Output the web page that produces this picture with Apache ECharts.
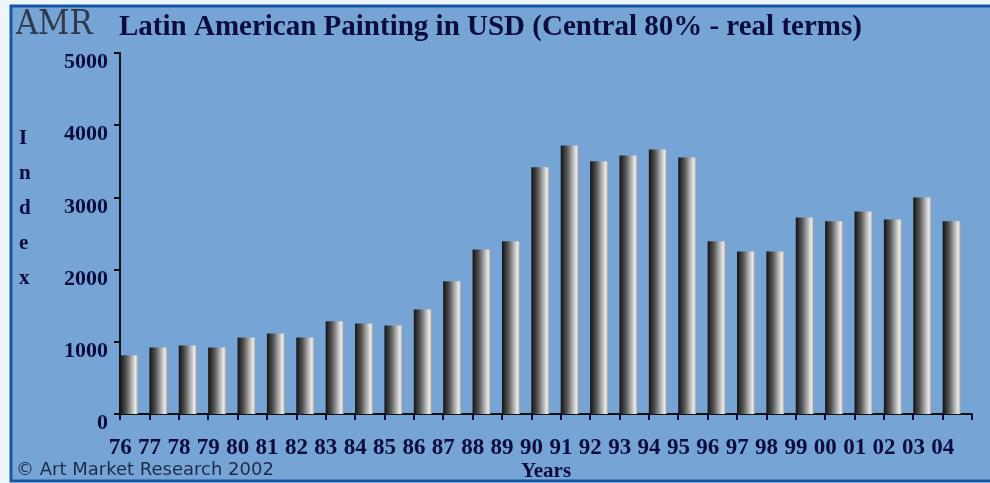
<!DOCTYPE html>
<html>
<head>
<meta charset="utf-8">
<script src="https://cdn.jsdelivr.net/npm/echarts@6/dist/echarts.min.js"></script>
<style>
  html, body { margin: 0; padding: 0; background: #eef6fd; }
  #chart { width: 990px; height: 483px; }
</style>
</head>
<body>
<div id="chart"></div>
<script>
// years along the bottom
const years = ['76','77','78','79','80','81','82','83','84','85','86','87','88','89',
  '90','91','92','93','94','95','96','97','98','99','00','01','02','03','04']
// index values
const indexValues = [812, 922, 950, 922, 1061, 1116, 1061, 1283, 1255, 1227, 1449, 1837, 2280, 2391,
  3416, 3720, 3499, 3582, 3665, 3554, 2391, 2252, 2252, 2723, 2668, 2806, 2695, 3000, 2668]
const yTicks = [0, 1000, 2000, 3000, 4000, 5000]

const navy = '#0c0c3e'
const serif = '"Liberation Serif", "Times New Roman", serif'

const Chart = echarts.init(document.getElementById('chart'))
Chart.setOption({
  animation: false,
  backgroundColor: '#eef6fd',
  title: {
    text: 'Latin American Painting in USD (Central 80% - real terms)',
    left: 119,
    top: 13,
    padding: 0,
    textStyle: { fontFamily: serif, fontWeight: 'bold', fontSize: 29, color: navy }
  },
  graphic: [
    {
      type: 'rect', z: -10, silent: true,
      shape: { x: 11, y: 6, width: 990, height: 475 },
      style: { fill: '#75a4d5', stroke: '#1656a6', lineWidth: 3 }
    },
    {
      type: 'text', left: 16, top: 8, silent: true,
      style: { text: 'AMR', font: 'normal 34px "DejaVu Serif Condensed", ' + serif, fill: '#2e3a4c' }
    },
    {
      type: 'text', left: 19, top: 121, silent: true,
      style: { text: 'I\nn\nd\ne\nx', font: 'bold 21px ' + serif, fill: navy, lineHeight: 35, align: 'left' }
    },
    {
      type: 'text', left: 16, top: 461, silent: true,
      style: { text: '\u00a9 Art Market Research 2002', font: 'normal 18px "DejaVu Sans", sans-serif', fill: '#1e2a4a' }
    }
  ],
  grid: { left: 120, right: 18, top: 53, bottom: 69, outerBoundsMode: 'none', containLabel: false },
  xAxis: {
    type: 'category',
    data: years,
    boundaryGap: true,
    name: 'Years',
    nameLocation: 'middle',
    nameGap: 47,
    nameMoveOverlap: false,
    nameTextStyle: { fontFamily: serif, fontWeight: 'bold', fontSize: 21, color: navy },
    axisLine: { lineStyle: { color: '#111', width: 2 } },
    axisTick: { show: true, length: 6, lineStyle: { color: navy, width: 2 } },
    axisLabel: {
      interval: 0,
      hideOverlap: false,
      margin: 23,
      padding: [0, 29, 0, 0],
      fontFamily: serif, fontWeight: 'bold', fontSize: 23, color: navy
    },
    splitLine: { show: false }
  },
  yAxis: {
    type: 'value',
    min: yTicks[0],
    max: yTicks[yTicks.length - 1],
    interval: 1000,
    axisLine: { show: true, lineStyle: { color: '#111', width: 2 } },
    axisTick: { show: true, length: 6, lineStyle: { color: '#111', width: 2 } },
    axisLabel: {
      margin: 12,
      verticalAlign: 'top',
      lineHeight: 19,
      formatter: v => String(v),
      fontFamily: serif, fontWeight: 'bold', fontSize: 22, color: navy
    },
    splitLine: { show: false }
  },
  series: [
    {
      name: 'Index',
      type: 'bar',
      barWidth: 18,
      barGap: '-37%',
      data: indexValues,
      itemStyle: {
        color: new echarts.graphic.LinearGradient(0, 0, 1, 0, [
          { offset: 0, color: '#121212' },
          { offset: 0.35, color: '#555555' },
          { offset: 0.7, color: '#bdbdbd' },
          { offset: 0.87, color: '#ececec' },
          { offset: 1, color: '#9c9c9c' }
        ])
      }
    },
    {
      // empty series, keeps the bars on the left of each year slot
      name: 'spacer',
      type: 'bar',
      barWidth: 18,
      silent: true,
      data: []
    }
  ]
})
</script>
</body>
</html>
